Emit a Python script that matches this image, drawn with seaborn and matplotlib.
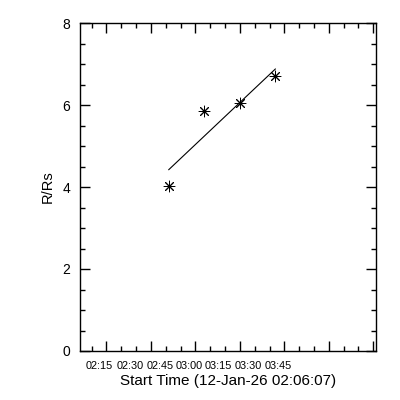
import numpy as np
import pandas as pd
import matplotlib
matplotlib.use("Agg")
import matplotlib.pyplot as plt
import seaborn as sns

# --- dados (tempo em minutos depois de 02:00) ---
t_obs = [36, 48, 60, 72]            # 02:36, 02:48, 03:00, 03:12
r_obs = [4.02, 5.85, 6.05, 6.70]    # R/Rs
t_fit = [36, 72]
r_fit = [4.42, 6.88]

x_min, x_max = 6.117, 105.9         # início 02:06:07
major_t = [15, 30, 45, 60, 75, 90, 105]
minor_t = [10, 20, 25, 35, 40, 50, 55, 65, 70, 80, 85, 95, 100]
tick_labels = ["02:15", "02:30", "02:45", "03:00", "03:15", "03:30", "03:45"]
# os rótulos do IDL saem deslocados das marcas
label_pos = [12.7, 23.0, 33.0, 42.9, 52.9, 62.8, 72.8]

df_obs = pd.DataFrame({"t": t_obs, "r": r_obs})
df_fit = pd.DataFrame({"t": t_fit, "r": r_fit})

sns.set_theme(style="ticks")
plt.rcParams["font.family"] = ["Liberation Sans", "DejaVu Sans"]
plt.rcParams["text.color"] = "black"
plt.rcParams["axes.labelcolor"] = "black"

fig = plt.figure(figsize=(4, 4), dpi=100)
ax = fig.add_axes([0.2, 0.1225, 0.74, 0.82])

sns.lineplot(data=df_fit, x="t", y="r", color="black", linewidth=0.8, ax=ax)
sns.scatterplot(data=df_obs, x="t", y="r", marker=(8, 2, 0), s=60,
                color="black", edgecolor="black", linewidth=0.7, ax=ax)

ax.set_xlim(x_min, x_max)
ax.set_ylim(0, 8)
for s in ax.spines.values():
    s.set_linewidth(1.0)
    s.set_color("black")

ax.set_xticks(major_t)
ax.set_xticks(minor_t, minor=True)
ax.set_xticklabels([])
ax.set_yticks([0, 2, 4, 6, 8])
ax.set_yticks(np.arange(0, 8.01, 0.5), minor=True)
ax.tick_params(which="both", direction="in", top=True, right=True,
               color="black", width=1.0)
ax.tick_params(which="major", length=7)
ax.tick_params(which="minor", length=3.5)
ax.tick_params(axis="y", which="major", labelsize=10, pad=7, labelcolor="black")

sec = ax.secondary_xaxis("bottom")
sec.set_xticks(label_pos, tick_labels)
sec.tick_params(length=0, labelsize=7.8, pad=7, labelcolor="black")
sec.spines["bottom"].set_visible(False)
sec.set_xlabel("Start Time (12-Jan-26 02:06:07)", fontsize=11, labelpad=2,
               color="black")

ax.set_xlabel("")
ax.set_ylabel("R/Rs", fontsize=10.5, color="black")
ax.yaxis.set_label_coords(-0.085, 0.5)

fig.savefig("out.png", dpi=100, facecolor="white")
